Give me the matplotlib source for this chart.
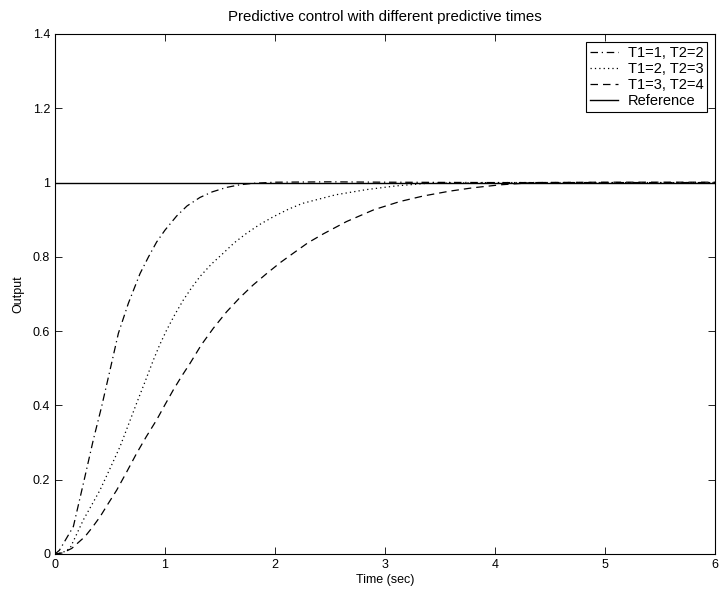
import numpy as np
import matplotlib.pyplot as plt

plt.rcParams['font.family'] = ['Liberation Sans', 'DejaVu Sans']
plt.rcParams['font.size'] = 9

# values
t_a = [0.0, 0.04, 0.08, 0.167, 0.258, 0.348, 0.424, 0.5, 0.576, 0.667, 0.773,
       0.85, 0.924, 1.0, 1.106, 1.2, 1.318, 1.43, 1.56, 1.68, 1.8, 2.0, 2.5,
       3.0, 4.0, 5.0, 6.0]
y_a = [0.0, 0.01, 0.03, 0.074, 0.19, 0.307, 0.397, 0.495, 0.594, 0.675, 0.755,
       0.8, 0.84, 0.872, 0.91, 0.937, 0.96, 0.975, 0.987, 0.994, 0.998, 1.001,
       1.002, 1.001, 1.0, 1.0, 1.0]

t_b = [0.0, 0.07, 0.136, 0.258, 0.33, 0.409, 0.5, 0.591, 0.67, 0.742, 0.82,
       0.894, 0.95, 1.015, 1.09, 1.167, 1.24, 1.318, 1.42, 1.53, 1.63, 1.74,
       1.86, 1.985, 2.12, 2.25, 2.55, 2.83, 3.1, 3.38, 4.0, 5.0, 6.0]
y_b = [0.0, 0.004, 0.015, 0.092, 0.13, 0.172, 0.23, 0.289, 0.35, 0.406, 0.465,
       0.522, 0.562, 0.603, 0.645, 0.684, 0.716, 0.747, 0.78, 0.81, 0.838, 0.863,
       0.887, 0.908, 0.928, 0.944, 0.967, 0.981, 0.991, 0.998, 1.0, 1.0, 1.0]

t_c = [0.0, 0.07, 0.152, 0.273, 0.34, 0.409, 0.48, 0.561, 0.65, 0.742, 0.83,
       0.924, 1.0, 1.076, 1.15, 1.227, 1.33, 1.44, 1.56, 1.68, 1.8, 1.924,
       2.05, 2.167, 2.3, 2.44, 2.65, 2.9, 3.136, 3.35, 3.59, 3.8, 4.05, 4.35,
       5.0, 6.0]
y_c = [0.0, 0.003, 0.015, 0.047, 0.072, 0.1, 0.134, 0.172, 0.22, 0.271, 0.316,
       0.361, 0.402, 0.442, 0.478, 0.513, 0.563, 0.608, 0.652, 0.69, 0.724, 0.755,
       0.785, 0.81, 0.838, 0.862, 0.895, 0.927, 0.949, 0.964, 0.977, 0.986, 0.994,
       1.0, 1.001, 1.001]

labels = ['T1=1, T2=2', 'T1=2, T2=3', 'T1=3, T2=4', 'Reference']

fig = plt.figure(figsize=(7.19, 5.98), dpi=100)
ax = fig.add_axes([55 / 719, 44 / 598, 660 / 719, 520 / 598])

ax.plot(t_a, y_a, color='black', lw=0.9, linestyle=(0, (6, 3, 1, 3)), label=labels[0])
ax.plot(t_b, y_b, color='black', lw=0.9, linestyle=(0, (1, 2.5)), label=labels[1])
ax.plot(t_c, y_c, color='black', lw=0.9, linestyle=(0, (6, 4)), label=labels[2])
ax.plot([0, 6], [1, 1], color='black', lw=1.0, label=labels[3])

ax.set_xlim(0, 6)
ax.set_ylim(0, 1.4)
ax.set_xticks(np.arange(0, 7, 1))
ax.set_yticks(np.arange(0, 1.41, 0.2))
ax.set_yticklabels(['0', '0.2', '0.4', '0.6', '0.8', '1', '1.2', '1.4'])
ax.tick_params(direction='in', top=True, right=True, length=5, width=0.6)
for s in ax.spines.values():
    s.set_linewidth(0.8)

ax.set_xlabel('Time (sec)', labelpad=2)
ax.set_ylabel('Output', labelpad=6)
ax.set_title('Predictive control with different predictive times', pad=9)

leg = ax.legend(loc='upper right', fancybox=False, framealpha=1, edgecolor='black',
                fontsize=10.5, handlelength=1.9, labelspacing=0.15, borderpad=0.25,
                handletextpad=0.7, borderaxespad=0.55)
leg.get_frame().set_linewidth(0.8)

fig.savefig('out.png', dpi=100)
